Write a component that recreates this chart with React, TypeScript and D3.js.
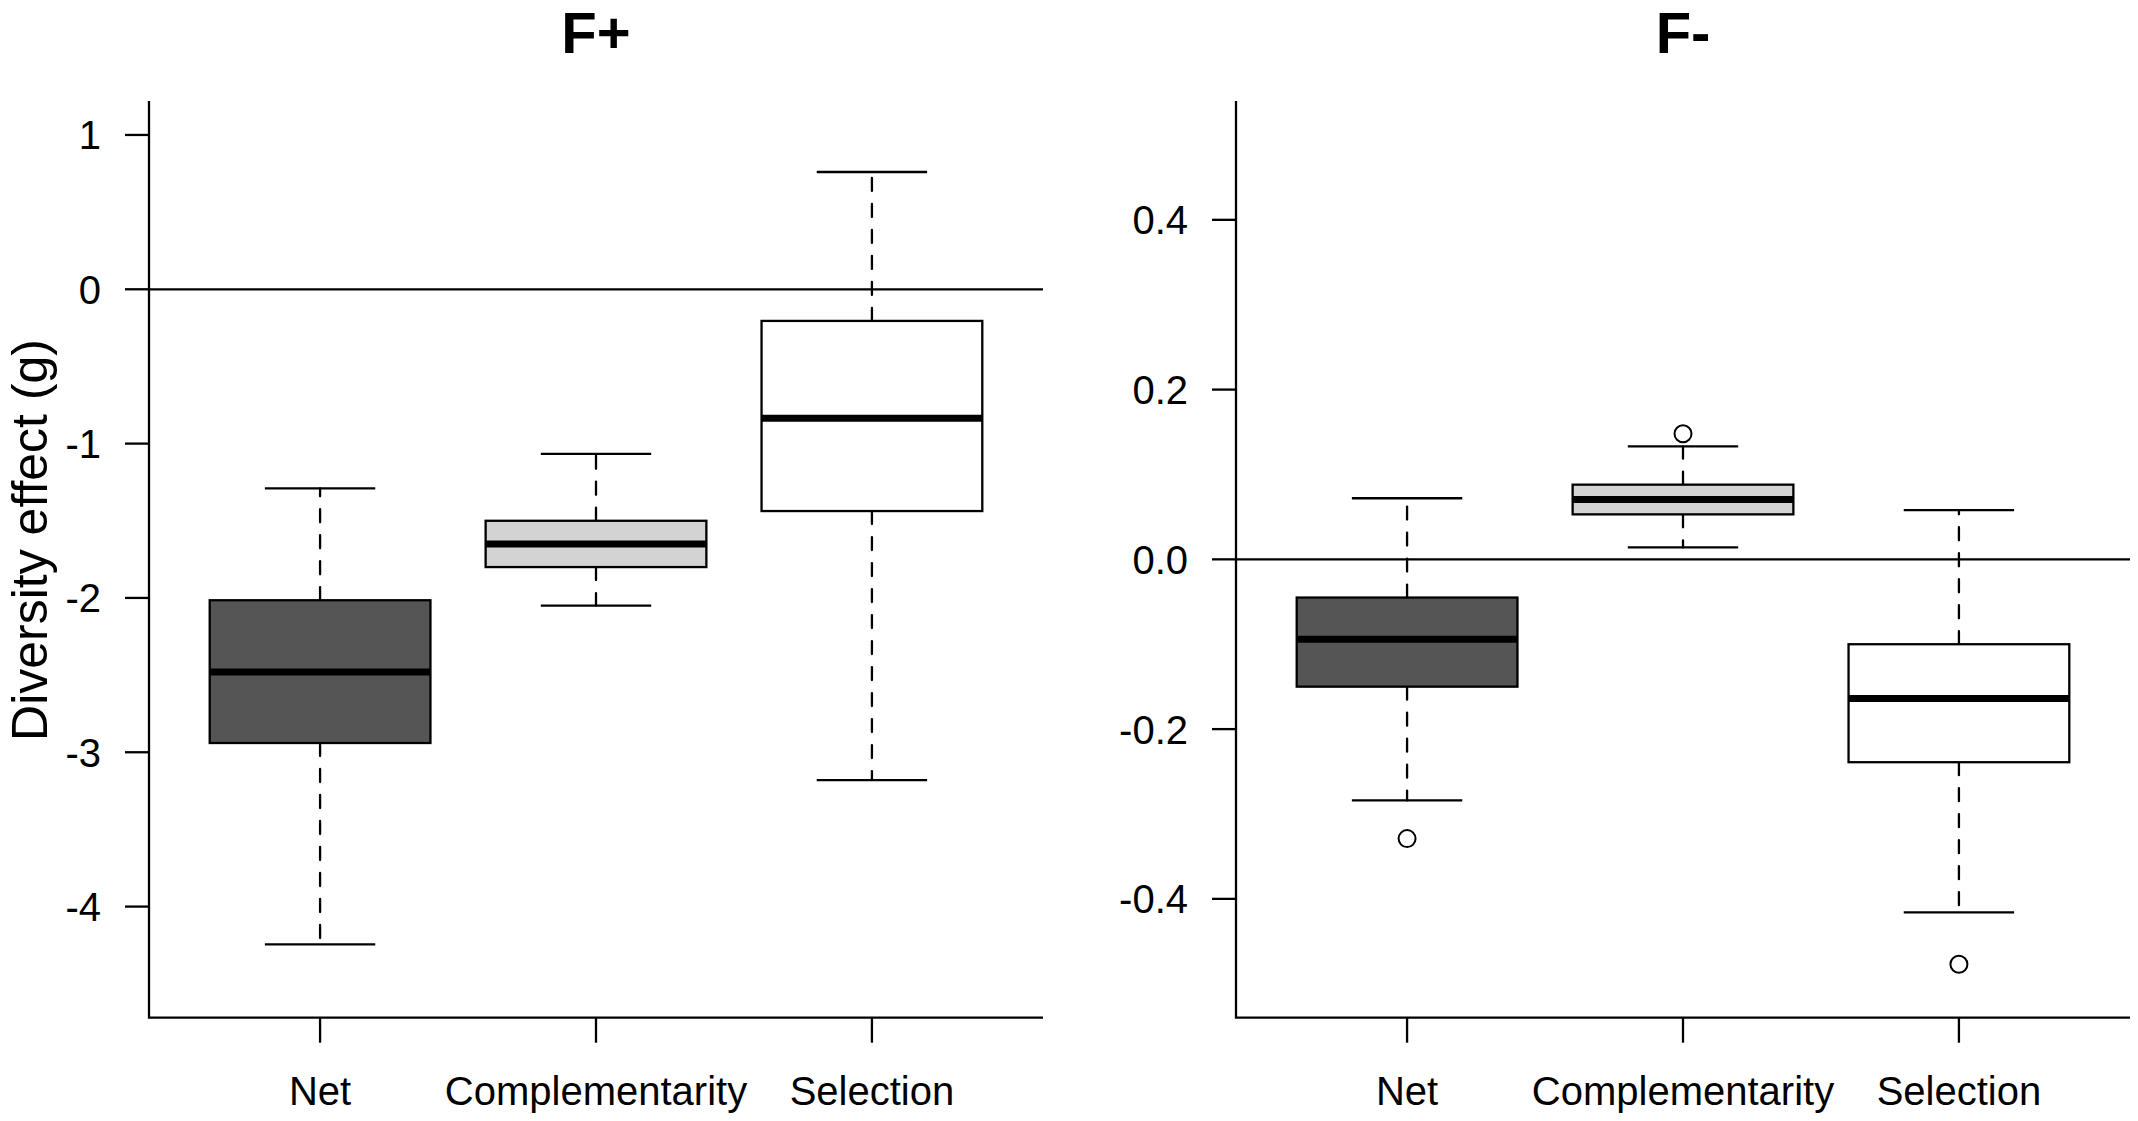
import React from "react";
import * as d3 from "d3";

const categories = ["Net", "Complementarity", "Selection"];
const fills = ["#555555", "#d3d3d3", "#ffffff"];

// F+ panel
const fPlusLow = [-4.245, -2.05, -3.18];
const fPlusQ1 = [-2.94, -1.8, -1.437];
const fPlusMedian = [-2.48, -1.65, -0.835];
const fPlusQ3 = [-2.015, -1.5, -0.205];
const fPlusHigh = [-1.29, -1.067, 0.76];
const fPlusOutliers: { cat: number; value: number }[] = [];
const fPlusTicks = [1, 0, -1, -2, -3, -4];
const fPlusTickLabels = ["1", "0", "-1", "-2", "-3", "-4"];

// F- panel
const fMinusLow = [-0.284, 0.014, -0.416];
const fMinusQ1 = [-0.15, 0.053, -0.239];
const fMinusMedian = [-0.094, 0.0705, -0.164];
const fMinusQ3 = [-0.045, 0.088, -0.1];
const fMinusHigh = [0.072, 0.133, 0.058];
const fMinusOutliers = [
  { cat: 0, value: -0.329 },
  { cat: 1, value: 0.148 },
  { cat: 2, value: -0.477 },
];
const fMinusTicks = [0.4, 0.2, 0, -0.2, -0.4];
const fMinusTickLabels = ["0.4", "0.2", "0.0", "-0.2", "-0.4"];

const FONT = "'Liberation Sans', Arial, Helvetica, sans-serif";
const LW = 2.3;

type PanelProps = {
  title: string;
  x0: number;
  x1: number;
  yDomain: [number, number];
  low: number[];
  q1: number[];
  med: number[];
  q3: number[];
  high: number[];
  outliers: { cat: number; value: number }[];
  ticks: number[];
  tickLabels: string[];
};

const TOP = 101;
const BOTTOM = 1017.7;

function Panel(p: PanelProps) {
  const x = d3.scaleLinear().domain([0.38, 3.62]).range([p.x0, p.x1]);
  const y = d3.scaleLinear().domain(p.yDomain).range([BOTTOM, TOP]);
  const step = x(2) - x(1);
  const bw = step * 0.8;
  const sw = bw * 0.5;
  const cx = (p.x0 + p.x1) / 2;
  return (
    <g>
      <text x={cx} y={53} textAnchor="middle" fontFamily={FONT} fontWeight="bold" fontSize={58}>
        {p.title}
      </text>
      {/* zero reference line */}
      <line x1={p.x0} x2={p.x1} y1={y(0)} y2={y(0)} stroke="#000" strokeWidth={LW} />
      {categories.map((c, i) => {
        const xc = x(i + 1);
        return (
          <g key={c}>
            <line x1={xc} x2={xc} y1={y(p.q3[i])} y2={y(p.high[i])} stroke="#000" strokeWidth={LW} strokeDasharray="13,13" strokeLinecap="round" />
            <line x1={xc} x2={xc} y1={y(p.q1[i])} y2={y(p.low[i])} stroke="#000" strokeWidth={LW} strokeDasharray="13,13" strokeLinecap="round" />
            <line x1={xc - sw / 2} x2={xc + sw / 2} y1={y(p.high[i])} y2={y(p.high[i])} stroke="#000" strokeWidth={LW} />
            <line x1={xc - sw / 2} x2={xc + sw / 2} y1={y(p.low[i])} y2={y(p.low[i])} stroke="#000" strokeWidth={LW} />
            <rect x={xc - bw / 2} y={y(p.q3[i])} width={bw} height={y(p.q1[i]) - y(p.q3[i])} fill={fills[i]} stroke="#000" strokeWidth={LW} />
            <line x1={xc - bw / 2} x2={xc + bw / 2} y1={y(p.med[i])} y2={y(p.med[i])} stroke="#000" strokeWidth={7} />
            <line x1={xc} x2={xc} y1={BOTTOM} y2={BOTTOM + 25} stroke="#000" strokeWidth={LW} />
            <text x={xc} y={1105} textAnchor="middle" fontFamily={FONT} fontSize={40}>
              {c}
            </text>
          </g>
        );
      })}
      {p.outliers.map((o, k) => (
        <circle key={k} cx={x(o.cat + 1)} cy={y(o.value)} r={8.5} fill="none" stroke="#000" strokeWidth={2} />
      ))}
      {/* axes (L-shaped) */}
      <path d={`M${p.x0},${TOP}V${BOTTOM}H${p.x1}`} fill="none" stroke="#000" strokeWidth={LW} />
      {p.ticks.map((t, k) => (
        <g key={t}>
          <line x1={p.x0 - 24} x2={p.x0} y1={y(t)} y2={y(t)} stroke="#000" strokeWidth={LW} />
          <text x={p.x0 - 48} y={y(t)} dy="0.36em" textAnchor="end" fontFamily={FONT} fontSize={40}>
            {p.tickLabels[k]}
          </text>
        </g>
      ))}
    </g>
  );
}

export default function App() {
  return (
    <div>
      <style>{"body{margin:0;background:#fff}"}</style>
      <svg width={2138} height={1121} style={{ display: "block", background: "#fff" }}>
        <Panel
          title="F+"
          x0={149}
          x1={1043}
          yDomain={[-4.72, 1.22]}
          low={fPlusLow}
          q1={fPlusQ1}
          med={fPlusMedian}
          q3={fPlusQ3}
          high={fPlusHigh}
          outliers={fPlusOutliers}
          ticks={fPlusTicks}
          tickLabels={fPlusTickLabels}
        />
        <Panel
          title="F-"
          x0={1236}
          x1={2130}
          yDomain={[-0.54, 0.54]}
          low={fMinusLow}
          q1={fMinusQ1}
          med={fMinusMedian}
          q3={fMinusQ3}
          high={fMinusHigh}
          outliers={fMinusOutliers}
          ticks={fMinusTicks}
          tickLabels={fMinusTickLabels}
        />
        <text
          transform="translate(47,540) rotate(-90)"
          textAnchor="middle"
          fontFamily={FONT}
          fontSize={50}
        >
          Diversity effect (g)
        </text>
      </svg>
    </div>
  );
}
